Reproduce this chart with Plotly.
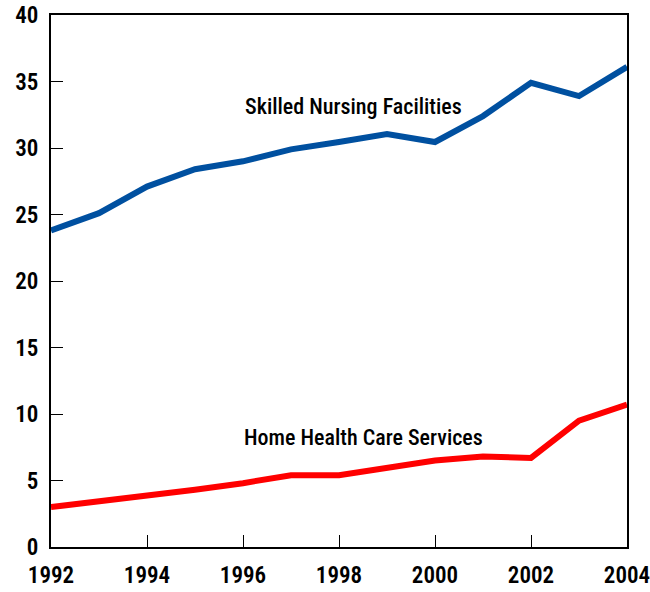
import plotly.graph_objects as go

years = list(range(1992, 2005))
skilled_nursing = [23.8, 25.1, 27.1, 28.4, 29.0, 29.9, 30.45, 31.05, 30.45, 32.4, 34.9, 33.9, 36.1]
home_health = [3.0, 3.4, 3.9, 4.3, 4.8, 5.4, 5.4, 5.9, 6.5, 6.8, 6.7, 9.5, 10.7]
x_ticks = [1992, 1994, 1996, 1998, 2000, 2002, 2004]
y_ticks = [0, 5, 10, 15, 20, 25, 30, 35, 40]

font_family = "Roboto Condensed, Liberation Sans Narrow, Arial Narrow, sans-serif"

fig = go.Figure()

fig.add_trace(go.Scatter(
    x=years, y=skilled_nursing, mode="lines",
    line=dict(color="#0050a0", width=6),
    name="Skilled Nursing Facilities", cliponaxis=False,
))
fig.add_trace(go.Scatter(
    x=years, y=home_health, mode="lines",
    line=dict(color="#ff0000", width=6),
    name="Home Health Care Services", cliponaxis=False,
))

fig.add_annotation(x=1998.3, y=33.1, text="Skilled Nursing Facilities",
                   showarrow=False, font=dict(size=22, color="black", family=font_family, weight=500))
fig.add_annotation(x=1998.5, y=8.2, text="Home Health Care Services",
                   showarrow=False, font=dict(size=22, color="black", family=font_family, weight=500))

fig.update_layout(
    width=650, height=592,
    margin=dict(l=51, r=23, t=15, b=45),
    paper_bgcolor="white", plot_bgcolor="white",
    showlegend=False,
    font=dict(family=font_family, size=22, color="black"),
    xaxis=dict(
        range=[1992, 2004], tickvals=x_ticks, ticks="inside", ticklen=12,
        tickwidth=1, tickcolor="black", showgrid=False, zeroline=False,
        showline=True, linecolor="black", linewidth=2, mirror=True,
        tickfont=dict(size=23, family=font_family, weight=600), ticklabelstandoff=6,
        automargin=False, ticklabeloverflow="allow",
    ),
    yaxis=dict(
        range=[0, 40], tickvals=y_ticks, ticks="inside", ticklen=12,
        tickwidth=1, tickcolor="black", showgrid=False, zeroline=False,
        showline=True, linecolor="black", linewidth=2, mirror=True,
        tickfont=dict(size=23, family=font_family, weight=600), ticklabelstandoff=6,
        automargin=False, ticklabeloverflow="allow",
    ),
)

# drop the default 8px body margin so the figure fills the window
fig.write_html("out.html", config={"displayModeBar": False},
               post_script="document.body.style.margin='0px';")
